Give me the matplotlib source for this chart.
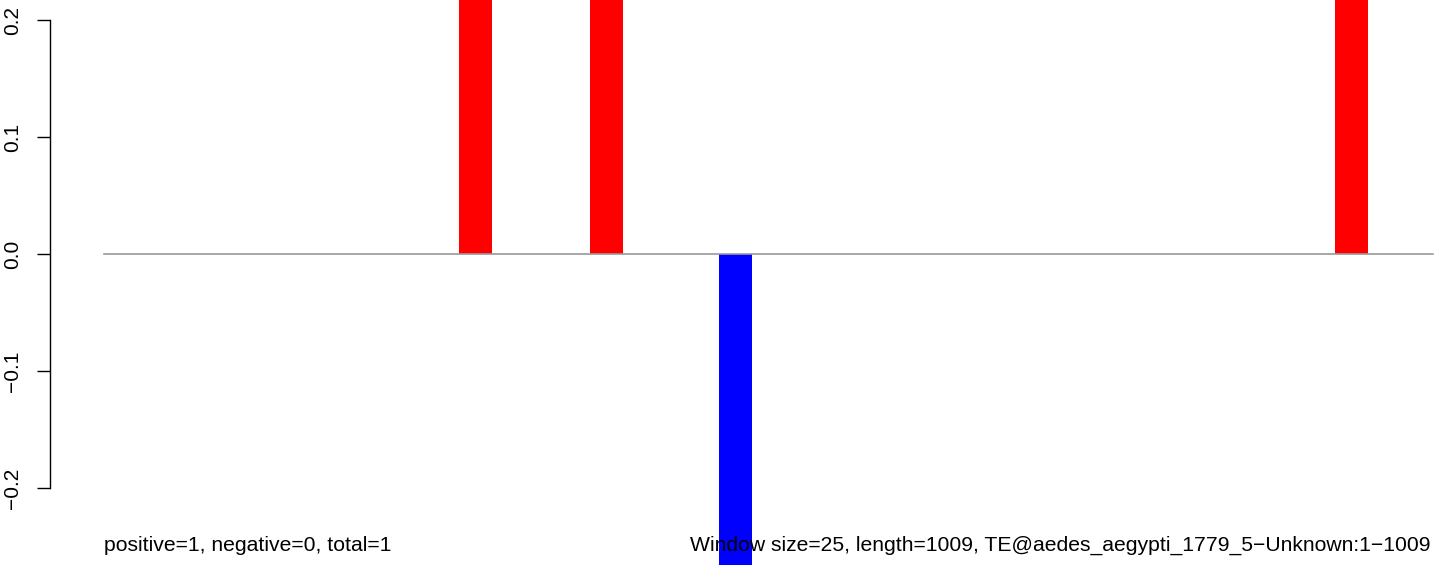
import matplotlib
matplotlib.use("Agg")
import matplotlib.pyplot as plt

# window start positions (bp) and values of the windows that have a hit
win_start = [270, 369, 467, 935]
win_value = [1.0, 1.0, -1.0, 1.0]
win_size = 25
seq_len = 1009

yticks = [-0.2, -0.1, 0.0, 0.1, 0.2]
left_note = "positive=1, negative=0, total=1"
right_note = "Window size=25, length=1009, TE@aedes_aegypti_1779_5\u2212Unknown:1\u22121009"

plt.rcParams["font.family"] = ["Liberation Sans", "DejaVu Sans"]

fig = plt.figure(figsize=(14.44, 5.65), dpi=100)
ax = fig.add_axes([0, 0, 1, 1])
ax.set_xlim(-78.6, 1017.5)
ax.set_ylim(-0.2654, 0.2171)

colors = ["#FF0000" if v > 0 else "#0000FF" for v in win_value]
ax.bar(win_start, win_value, width=win_size, align="edge", color=colors,
       linewidth=0, zorder=2)
ax.plot([0, seq_len], [0, 0], color="#9a9a9a", lw=1.2, zorder=3)

for s in ["top", "right", "bottom"]:
    ax.spines[s].set_visible(False)
ax.spines["left"].set_position(("data", -40.6))
ax.spines["left"].set_bounds(-0.2, 0.2)
ax.spines["left"].set_linewidth(1.0)
ax.set_xticks([])
ax.set_yticks(yticks)
ax.set_yticklabels(["\u22120.2", "\u22120.1", "0.0", "0.1", "0.2"],
                   rotation=90, va="center", fontsize=15)
ax.tick_params(axis="y", length=9.4, width=1.0, pad=11)

# notes are drawn on top of the bars
ax.text(0.5, -0.2535, left_note, ha="left", va="baseline", fontsize=15.2,
        zorder=4)
ax.text(1007.5, -0.2535, right_note, ha="right", va="baseline", fontsize=15.2,
        zorder=4)

fig.savefig("out.png", dpi=100)
